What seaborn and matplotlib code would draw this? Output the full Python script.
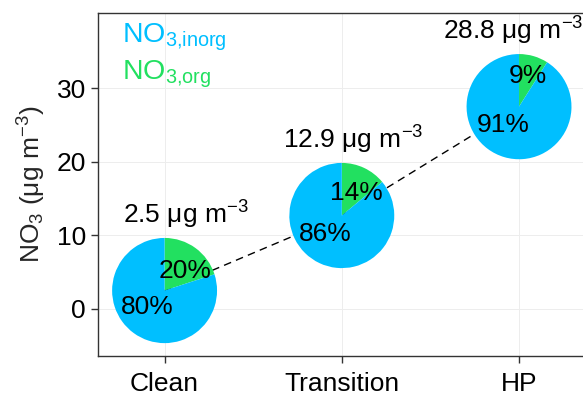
import matplotlib
matplotlib.use("Agg")
import matplotlib.pyplot as plt
import seaborn as sns

# data
categories = ["Clean", "Transition", "HP"]
pie_center_y = [2.5, 12.7, 27.5]          # where each pie sits on the y axis
total_labels = ["2.5", "12.9", "28.8"]    # total NO3 printed above each pie
frac_org = [20, 14, 9]                    # NO3,org share (%)
frac_inorg = [80, 86, 91]                 # NO3,inorg share (%)
y_ticks = [0, 10, 20, 30]

# styling
col_inorg = "#00BFFF"
col_org = "#22E060"
pie_rx, pie_ry = 0.296, 7.15              # pie radius in data units (x, y)
org_label_pos = [(0.39, 0.42), (0.28, 0.47), (0.17, 0.63)]
inorg_label_pos = [(-0.33, -0.27), (-0.32, -0.31), (-0.30, -0.30)]
total_nudge = [0.118, 0.062, -0.034]

sns.set_theme(style="whitegrid")
plt.rcParams["font.family"] = ["Liberation Sans", "DejaVu Sans"]
plt.rcParams["mathtext.fontset"] = "custom"
plt.rcParams["mathtext.rm"] = "Liberation Sans"
plt.rcParams["mathtext.it"] = "Liberation Sans"
plt.rcParams["mathtext.default"] = "regular"

fig = plt.figure(figsize=(5.83, 3.96), dpi=100)
ax = fig.add_axes([98.3 / 583, 40.0 / 396, 487 / 583, 343.5 / 396])

# dashed line joining the pie centres
sns.lineplot(x=[0, 1, 2], y=pie_center_y, ax=ax, color="black", lw=1.0,
             linestyle=(0, (5.5, 3.8)), sort=False, zorder=2)

ax.set_xlim(-0.374, 2.374)
ax.set_ylim(-6.4, 40.3)
ax.set_xticks(range(len(categories)))
ax.set_xticklabels(categories)
ax.set_yticks(y_ticks)
ax.grid(True, color="#EDEDED", lw=0.7)
ax.set_facecolor("white")
for side in ["left", "bottom", "top"]:
    ax.spines[side].set_color("#333333")
    ax.spines[side].set_linewidth(1.0)
ax.spines["right"].set_visible(False)
ax.tick_params(axis="both", which="major", length=5, width=1.0, color="#333333",
               labelsize=19, labelcolor="black", pad=4, bottom=True, left=True)
ax.tick_params(axis="x", pad=6.5)
ax.set_ylabel("NO$_3$ ($\\mu$g m$^{-3}$)", fontsize=19, labelpad=6)
ax.set_xlabel("")

for i, cat in enumerate(categories):
    y = pie_center_y[i]
    sub = ax.inset_axes([i - pie_rx, y - pie_ry, 2 * pie_rx, 2 * pie_ry],
                        transform=ax.transData, zorder=3)
    sub.pie([frac_org[i], frac_inorg[i]], colors=[col_org, col_inorg],
            startangle=90, counterclock=False, radius=1.0,
            wedgeprops=dict(linewidth=0))
    sub.set_xlim(-1, 1)
    sub.set_ylim(-1, 1)
    sub.set_aspect("auto")
    sub.axis("off")
    ox, oy = org_label_pos[i]
    sub.text(ox, oy, f"{frac_org[i]}%", ha="center", va="center_baseline",
             fontsize=19, color="black")
    ix, iy = inorg_label_pos[i]
    sub.text(ix, iy, f"{frac_inorg[i]}%", ha="center", va="center_baseline",
             fontsize=19, color="black")
    ax.text(i + total_nudge[i], y + 9.1, total_labels[i] + " $\\mu$g m$^{-3}$",
            ha="center", va="baseline", fontsize=19, color="black")

ax.text(0.048, 0.9125, "NO$_{3{,}inorg}$", transform=ax.transAxes, color=col_inorg,
        fontsize=20.5, va="baseline", ha="left")
ax.text(0.048, 0.8055, "NO$_{3{,}org}$", transform=ax.transAxes, color=col_org,
        fontsize=20.5, va="baseline", ha="left")

fig.savefig("out.png", dpi=100)
